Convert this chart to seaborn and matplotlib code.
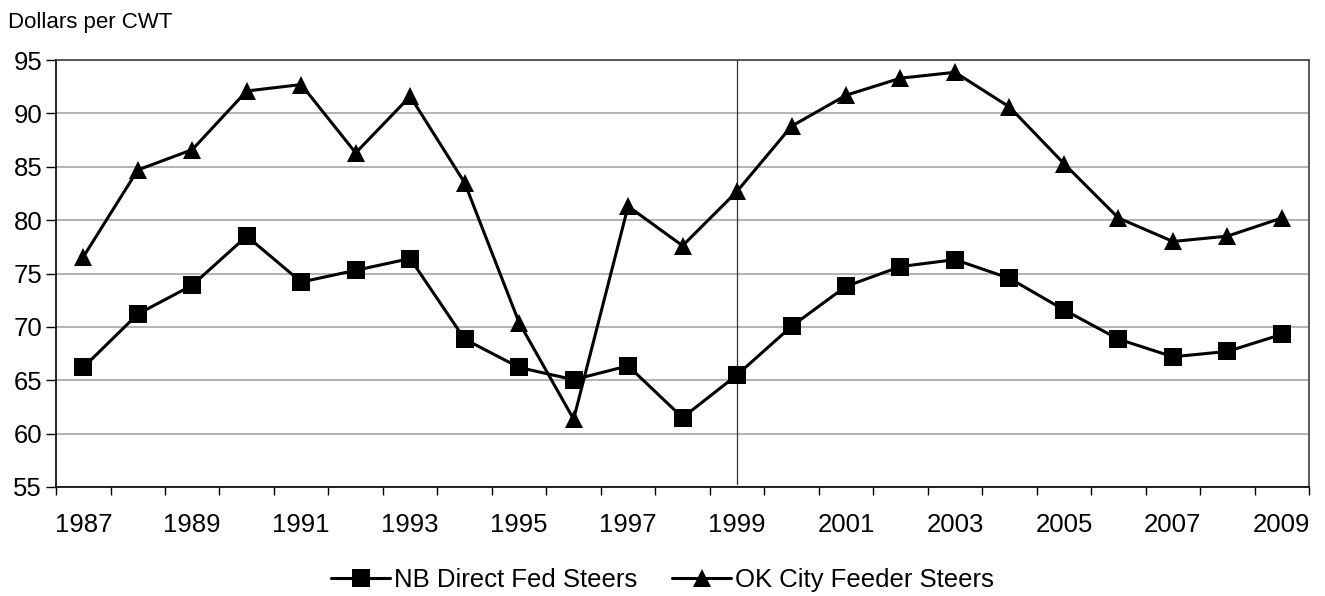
import matplotlib
matplotlib.use("Agg")
import matplotlib.pyplot as plt
import seaborn as sns
import pandas as pd
import numpy as np
from matplotlib.lines import Line2D

years = list(range(1987, 2010))
nb_direct_fed = [66.2, 71.2, 73.9, 78.5, 74.2, 75.3, 76.4, 68.85, 66.2, 65.05, 66.35, 61.5,
                 65.5, 70.05, 73.8, 75.65, 76.3, 74.55, 71.6, 68.85, 67.2, 67.7, 69.3]
ok_feeder = [76.55, 84.7, 86.6, 92.1, 92.7, 86.3, 91.6, 83.5, 70.4, 61.35, 81.3, 77.6,
             82.7, 88.8, 91.7, 93.3, 93.85, 90.6, 85.3, 80.2, 78.0, 78.5, 80.2]
series_names = ["NB Direct Fed Steers", "OK City Feeder Steers"]
y_ticks = [55, 60, 65, 70, 75, 80, 85, 90, 95]
x_labels = [str(y) for y in years[::2]]
marker_year = 1999

df = pd.DataFrame({
    "year": years * 2,
    "value": nb_direct_fed + ok_feeder,
    "series": [series_names[0]] * len(years) + [series_names[1]] * len(years),
})

sns.set_theme(style="white")
plt.rcParams["font.family"] = ["Liberation Sans", "DejaVu Sans"]
plt.rcParams["text.color"] = "black"
plt.rcParams["xtick.color"] = "black"
plt.rcParams["ytick.color"] = "black"
plt.rcParams["axes.labelcolor"] = "black"

fig = plt.figure(figsize=(13.25, 5.96), dpi=100)
ax = fig.add_axes([0.0423, 0.1829, 0.9457, 0.7164])

sns.lineplot(data=df, x="year", y="value", hue="series", style="series",
             palette=["black", "black"], markers={series_names[0]: "s", series_names[1]: "^"},
             dashes=False, markersize=12.5, linewidth=2.2, markeredgewidth=0,
             ax=ax, legend=False)

ax.set_xlim(1986.5, 2009.5)
ax.set_ylim(55, 95)
ax.set_yticks(y_ticks)
ax.yaxis.grid(True, color="#a6a6a6", linewidth=1.2)
ax.xaxis.grid(False)
ax.set_axisbelow(True)

ax.set_xticks(years[::2])
ax.set_xticklabels(x_labels)
ax.set_xticks(np.arange(1986.5, 2010, 1.0), minor=True)
ax.tick_params(axis="x", which="major", length=0, pad=19, labelsize=18.5, colors="black")
ax.tick_params(axis="x", which="minor", length=6, width=1, color="black", direction="out", bottom=True)
ax.tick_params(axis="y", which="major", length=7, width=1, color="black", direction="out",
               left=True, labelsize=18.5, pad=3, labelcolor="black")

for s in ["left", "bottom"]:
    ax.spines[s].set_color("black")
    ax.spines[s].set_linewidth(1.2)
for s in ["top", "right"]:
    ax.spines[s].set_visible(True)
    ax.spines[s].set_color("#404040")
    ax.spines[s].set_linewidth(1.2)

ax.set_xlabel("")
ax.set_ylabel("")

ax.axvline(marker_year, ymin=0.008, ymax=1.0, color="#333333", linewidth=0.9, zorder=1)

fig.text(0.006, 0.953, "Dollars per CWT", fontsize=16, ha="left", va="baseline", color="black")

handles = [Line2D([], [], color="black", marker="s", markersize=12.5, linewidth=2.2, markeredgewidth=0),
           Line2D([], [], color="black", marker="^", markersize=12.5, linewidth=2.2, markeredgewidth=0)]
fig.legend(handles, series_names, loc="center", bbox_to_anchor=(0.5, 0.027), ncol=2,
           frameon=False, fontsize=18.5, handlelength=2.3, handletextpad=0.15, columnspacing=1.35,
           labelcolor="black")

fig.savefig("out.png", dpi=100)
